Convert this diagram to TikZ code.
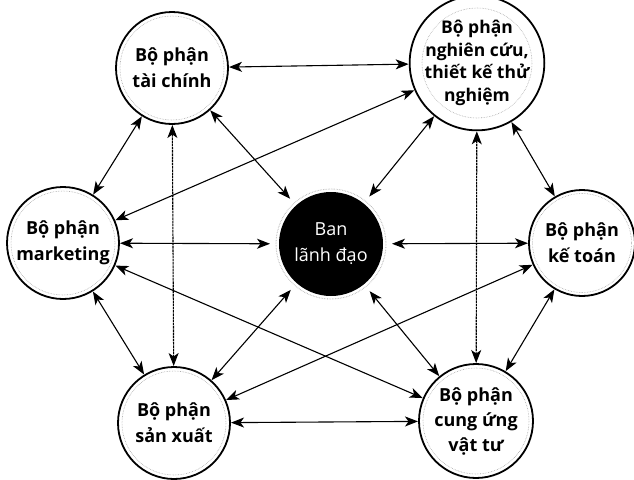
\documentclass[tikz,border=0pt]{standalone}
\usepackage{fontspec}
\setmainfont{Open Sans}
\usetikzlibrary{arrows.meta}
\begin{document}
\begin{tikzpicture}[x=1pt,y=-1pt,
  dept/.style={circle, draw, line width=1.8pt, inner sep=0pt, outer sep=1pt,
    minimum size=#1, align=center, font=\fontsize{18}{26}\selectfont\bfseries},
  head/.style={circle, fill=black, draw=none, inner sep=0pt, outer sep=9pt,
    minimum size=#1, align=center, text=white, font=\fontsize{18}{26}\selectfont},
  ring/.style={draw=gray!70, line width=0.6pt, densely dotted},
  tip/.tip={Stealth[length=13pt,width=10pt,inset=3.5pt]},
  conn/.style={tip-tip, line width=1.1pt},
  vconn/.style={conn, dash pattern=on 2.5pt off 0.7pt}
]
\useasboundingbox (0,0) rectangle (634,479);
\node[dept=112pt] (tc) at (172,68) {Bộ phận\\tài chính};
\node[dept=118pt, font=\fontsize{17.5}{22.5}\selectfont\bfseries] (nc) at (477,63) {Bộ phận\\nghiên cứu,\\thiết kế thử\\nghiệm};
\node[dept=112pt] (mk) at (63,243) {Bộ phận\\marketing};
\node[head=104pt] (bl) at (331,244) {Ban\\lãnh đạo};
\node[dept=106pt] (kt) at (582,243) {Bộ phận\\kế toán};
\node[dept=112pt] (sx) at (174,423) {Bộ phận\\sản xuất};
\node[dept=114pt, font=\fontsize{18}{25}\selectfont\bfseries] (cu) at (476,421) {Bộ phận\\cung ứng\\vật tư};
% inner dotted rings
\draw[ring] (tc) circle (52);
\draw[ring] (nc) circle (55);
\draw[ring] (mk) circle (52);
\draw[ring] (kt) circle (49.5);
\draw[ring] (sx) circle (52);
\draw[ring] (cu) circle (53);
\draw[ring, draw=gray!60, line width=0.9pt] (bl) circle (55);
% connectors
\draw[conn] (tc) -- (nc);
\draw[conn] (tc) -- (mk);
\draw[vconn] (tc) -- (sx);
\draw[conn] (tc) -- (bl);
\draw[conn] (nc) -- (mk);
\draw[conn] (nc) -- (bl);
\draw[vconn] (nc) -- (cu);
\draw[conn] (nc) -- (kt);
\draw[conn] (mk) -- (bl);
\draw[conn] (mk) -- (sx);
\draw[conn] (mk) -- (cu);
\draw[conn] (bl) -- (kt);
\draw[conn] (bl) -- (sx);
\draw[conn] (bl) -- (cu);
\draw[conn] (kt) -- (sx);
\draw[conn] (kt) -- (cu);
\draw[conn] (sx) -- (cu);
\end{tikzpicture}
\end{document}
